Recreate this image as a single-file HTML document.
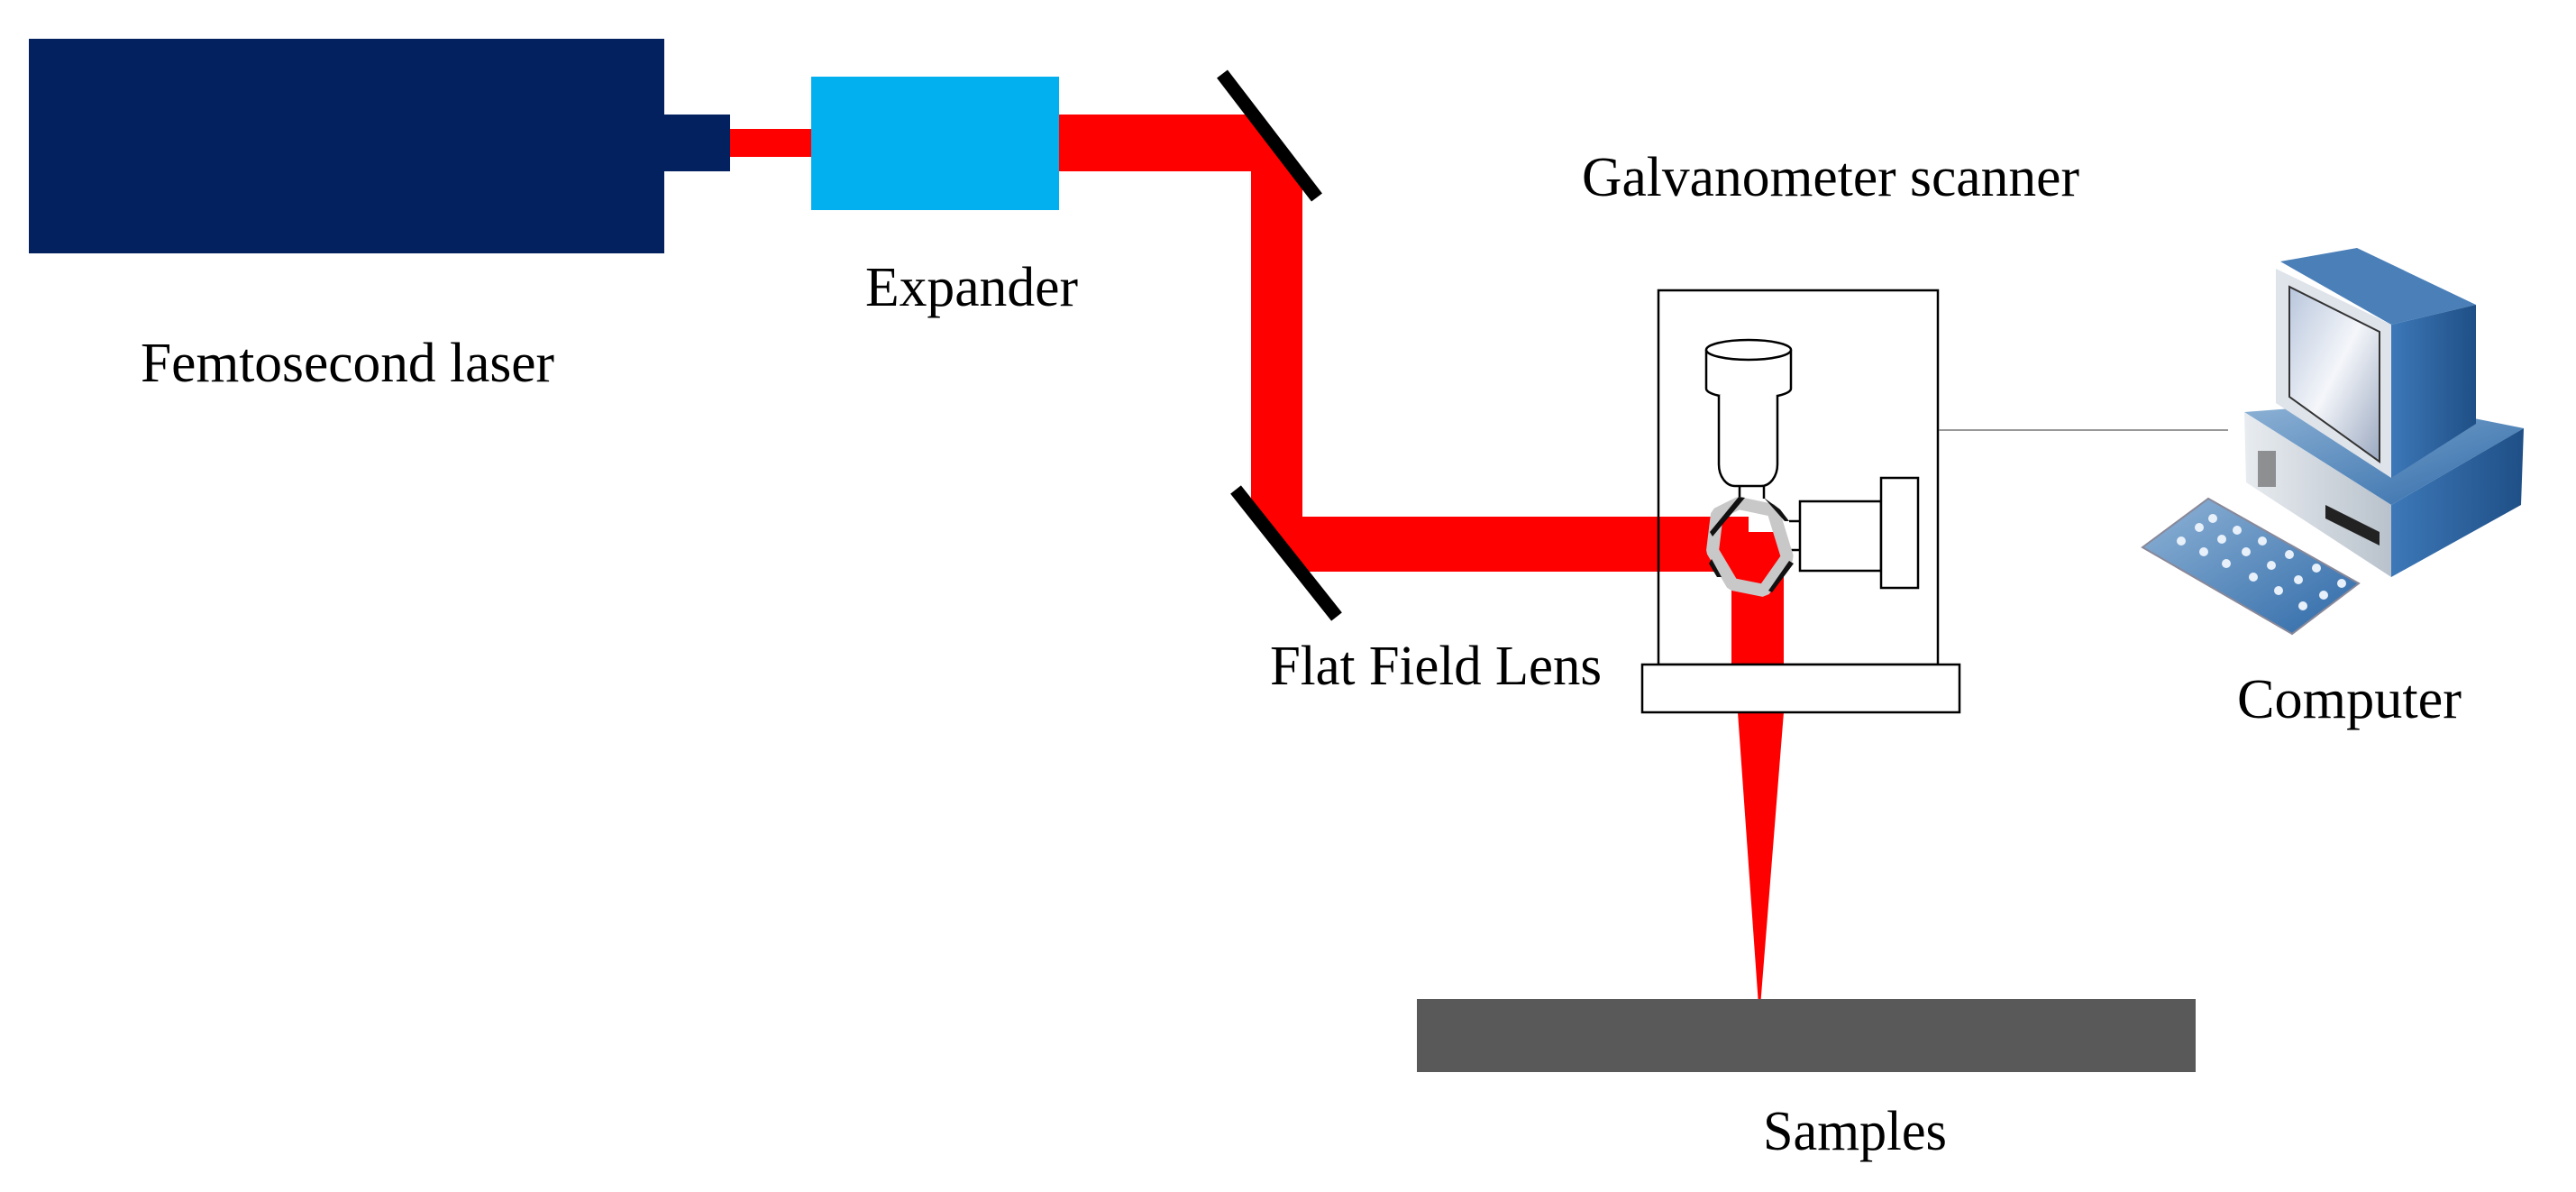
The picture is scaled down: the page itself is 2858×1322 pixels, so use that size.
<!DOCTYPE html>
<html><head><meta charset="utf-8"><style>
html,body{margin:0;padding:0;background:#fff;}
svg{display:block;}
text{font-family:"Liberation Serif",serif;font-size:62px;fill:#000;}
</style></head><body>
<svg width="2858" height="1322" viewBox="0 0 2858 1322" xmlns="http://www.w3.org/2000/svg">
<defs>
<linearGradient id="blue1" x1="0" y1="0" x2="1" y2="1"><stop offset="0" stop-color="#8fb3d6"/><stop offset="1" stop-color="#2f6aa8"/></linearGradient>
<linearGradient id="blue2" x1="0" y1="0" x2="1" y2="0"><stop offset="0" stop-color="#3d78b8"/><stop offset="1" stop-color="#1f4f86"/></linearGradient>
<linearGradient id="scr" x1="0" y1="0" x2="1" y2="1"><stop offset="0" stop-color="#b8c6dc"/><stop offset="0.5" stop-color="#f4f6fa"/><stop offset="1" stop-color="#9aa8c0"/></linearGradient>
<linearGradient id="grey1" x1="0" y1="0" x2="1" y2="0"><stop offset="0" stop-color="#e8ecf0"/><stop offset="1" stop-color="#b9c2cc"/></linearGradient>
</defs>

<rect x="32" y="43" width="705" height="238" fill="#03215f"/>
<rect x="737" y="127" width="73" height="63" fill="#03215f"/>
<rect x="810" y="143" width="92" height="31" fill="#ff0000"/>
<rect x="900" y="85" width="275" height="148" fill="#03b0ef"/>
<polygon points="1175,127 1390,127 1445,198 1445,573 1921,573 1921,634 1443,634 1388,564 1388,190 1175,190" fill="#ff0000"/>
<rect x="1921" y="590" width="58" height="150" fill="#ff0000"/>
<rect x="1900" y="573" width="40" height="61" fill="#ff0000"/>
<polygon points="1928,790 1979,790 1952,1129" fill="#ff0000"/>
<line x1="1356" y1="82" x2="1461" y2="219" stroke="#000" stroke-width="15"/>
<line x1="1371" y1="543" x2="1483" y2="684" stroke="#000" stroke-width="15"/>

<rect x="1840" y="322" width="310" height="415" fill="none" stroke="#000" stroke-width="2.5"/>
<rect x="1822" y="737" width="352" height="53" fill="#fff" stroke="#000" stroke-width="2.5"/>
<path d="M1893,388 L1893,431 A47,11 0 0 0 1987,431 L1987,388" fill="#fff" stroke="#000" stroke-width="2.5"/>
<ellipse cx="1940" cy="388" rx="47" ry="11" fill="#fff" stroke="#000" stroke-width="2.5"/>
<path d="M1907,438 L1907,515 A18,24 0 0 0 1925,539 L1954,539 A18,24 0 0 0 1972,515 L1972,438" fill="#fff" stroke="#000" stroke-width="2.5"/>
<line x1="1930" y1="539" x2="1930" y2="553" stroke="#000" stroke-width="2.5"/>
<line x1="1957" y1="539" x2="1957" y2="553" stroke="#000" stroke-width="2.5"/>
<line x1="1985" y1="578" x2="1997" y2="578" stroke="#000" stroke-width="2.5"/>
<line x1="1985" y1="610" x2="1997" y2="610" stroke="#000" stroke-width="2.5"/>
<rect x="1997" y="556" width="90" height="77" fill="#fff" stroke="#000" stroke-width="2.5"/>
<rect x="2087" y="530" width="41" height="122" fill="#fff" stroke="#000" stroke-width="2.5"/>
<polygon points="1929,558 1967,566 1983,618 1957,655 1922,648 1900,611 1905,570" fill="none" stroke="#c8c8c8" stroke-width="14" stroke-linejoin="bevel"/>
<polygon points="1929,551 1936,552 1900,595 1897,590" fill="#111"/>
<polygon points="1957,552 1975,565 1985,578 1980,578" fill="#111"/>
<polygon points="1985,622 1990,625 1966,657 1962,655" fill="#111"/>
<polygon points="1899,620 1910,640 1905,640 1896,625" fill="#111"/>

<line x1="2151" y1="477" x2="2472" y2="477" stroke="#777" stroke-width="1.5"/>

<polygon points="2490,457 2650,445 2800,475 2653,560" fill="url(#blue1)"/>
<polygon points="2490,457 2653,560 2653,640 2492,535" fill="url(#grey1)"/>
<polygon points="2653,560 2800,475 2797,560 2653,640" fill="url(#blue2)"/>
<rect x="2505" y="500" width="20" height="40" fill="#555" opacity="0.6"/>
<polygon points="2580,560 2640,590 2640,605 2580,575" fill="#222"/>
<polygon points="2530,290 2615,275 2747,338 2653,360" fill="#4a7fb8"/>
<polygon points="2653,360 2747,338 2747,470 2653,530" fill="url(#blue2)"/>
<polygon points="2525,298 2653,360 2653,530 2525,447" fill="#dfe3ea"/>
<polygon points="2540,318 2640,368 2640,512 2540,440" fill="url(#scr)" stroke="#333" stroke-width="2"/>
<polygon points="2377,607 2450,553 2617,647 2543,703" fill="url(#blue1)" stroke="#889" stroke-width="2"/>
<g fill="#e8f0fa">
<circle cx="2420" cy="600" r="5"/><circle cx="2440" cy="585" r="5"/><circle cx="2455" cy="575" r="5"/>
<circle cx="2445" cy="612" r="5"/><circle cx="2465" cy="598" r="5"/><circle cx="2482" cy="588" r="5"/>
<circle cx="2470" cy="625" r="5"/><circle cx="2492" cy="612" r="5"/><circle cx="2510" cy="600" r="5"/>
<circle cx="2500" cy="640" r="5"/><circle cx="2520" cy="627" r="5"/><circle cx="2540" cy="615" r="5"/>
<circle cx="2528" cy="655" r="5"/><circle cx="2550" cy="643" r="5"/><circle cx="2570" cy="630" r="5"/>
<circle cx="2555" cy="672" r="5"/><circle cx="2578" cy="660" r="5"/><circle cx="2598" cy="647" r="5"/>
</g>

<rect x="1572" y="1108" width="864" height="81" fill="#595959"/>

<text x="156" y="423" textLength="459" lengthAdjust="spacingAndGlyphs">Femtosecond laser</text>
<text x="960" y="339" textLength="236" lengthAdjust="spacingAndGlyphs">Expander</text>
<text x="1755" y="217" textLength="552" lengthAdjust="spacingAndGlyphs">Galvanometer scanner</text>
<text x="1409" y="759" textLength="368" lengthAdjust="spacingAndGlyphs">Flat Field Lens</text>
<text x="2482" y="796" textLength="249" lengthAdjust="spacingAndGlyphs">Computer</text>
<text x="1956" y="1275" textLength="204" lengthAdjust="spacingAndGlyphs">Samples</text>
</svg>
</body></html>
